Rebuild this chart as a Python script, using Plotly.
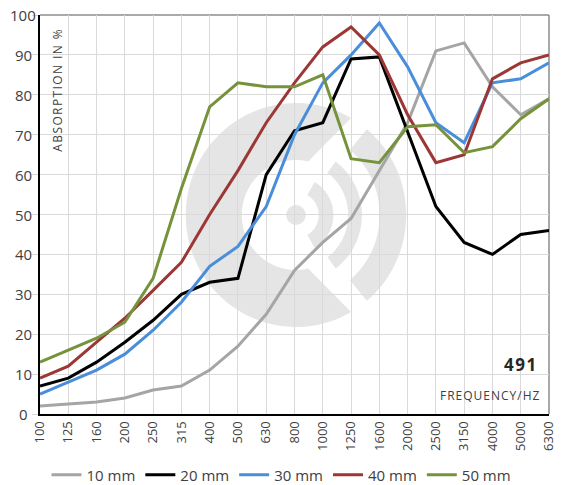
import numpy as np
import plotly.graph_objects as go

# Third-octave band centre frequencies (Hz)
freqs = ["100", "125", "160", "200", "250", "315", "400", "500", "630", "800",
         "1000", "1250", "1600", "2000", "2500", "3150", "4000", "5000", "6300"]

# Sound absorption in % per panel thickness
abs_10mm = [2, 2.5, 3, 4, 6, 7, 11, 17, 25, 36, 43, 49, 61, 73, 91, 93, 82, 75, 79]
abs_20mm = [7, 9, 13, 18, 23.5, 30, 33, 34, 60, 71, 73, 89, 89.5, 71, 52, 43, 40, 45, 46]
abs_30mm = [5, 8, 11, 15, 21, 28, 37, 42, 52, 70, 83, 90, 98, 87, 73, 68, 83, 84, 88]
abs_40mm = [9, 12, 18, 24, 31, 38, 50, 61, 73, 83, 92, 97, 90, 75, 63, 65, 84, 88, 90]
abs_50mm = [13, 16, 19, 23, 34, 56.5, 77, 83, 82, 82, 85, 64, 63, 72, 72.5, 65.5, 67, 74, 79]

series_names = ["10 mm", "20 mm", "30 mm", "40 mm", "50 mm"]
series_values = [abs_10mm, abs_20mm, abs_30mm, abs_40mm, abs_50mm]
series_colors = ["#a5a5a5", "#000000", "#4a8edb", "#9b3836", "#76933c"]

y_ticks = [0, 10, 20, 30, 40, 50, 60, 70, 80, 90, 100]

W, H = 563, 485
ML, MR, MT, MB = 40, 6, 15, 71
PW, PH = W - ML - MR, H - MT - MB

TEXT = "#404040"
FONT = "Open Sans"
GRID = "#dadada"


def paper(px, py):
    """Pixel position -> fraction of the plotting area."""
    return (px - ML) / PW, (H - MB - py) / PH


def band_path(cx, cy, r_in, r_out, a0, a1, b0=None, b1=None, n=80):
    """Closed path for an annular band: outer arc a0->a1, inner arc b1->b0."""
    if b0 is None:
        b0, b1 = a0, a1
    pts = []
    for t in np.radians(np.linspace(a0, a1, n)):
        pts.append(paper(cx + r_out * np.cos(t), cy - r_out * np.sin(t)))
    for t in np.radians(np.linspace(b1, b0, n)):
        pts.append(paper(cx + r_in * np.cos(t), cy - r_in * np.sin(t)))
    return "M " + " L ".join(f"{x:.5f},{y:.5f}" for x, y in pts) + " Z"


fig = go.Figure()

for name, vals, col in zip(series_names, series_values, series_colors):
    fig.add_trace(go.Scatter(
        x=freqs, y=vals, name=name, mode="lines",
        line=dict(color=col, width=3),
    ))

# Watermark emblem; translucent fill so the grid stays visible through it
LOGO = "rgba(0,0,0,0.10)"
cx, cy = 300, 215
shapes = [
    dict(type="path", path=band_path(cx, cy, 55, 112, 60, 300, 77, 283)),
    dict(type="path", path=band_path(cx, cy, 85, 112, -50, 50)),
    dict(type="path", path=band_path(cx, cy, 53, 67, -53, 53)),
    dict(type="path", path=band_path(cx, cy, 23, 38, -60, 60)),
]
x0, y0 = paper(cx - 10, cy + 10)
x1, y1 = paper(cx + 10, cy - 10)
shapes.append(dict(type="circle", x0=x0, y0=y0, x1=x1, y1=y1))
for s in shapes:
    s.update(xref="paper", yref="paper", fillcolor=LOGO,
             line=dict(width=0), layer="below")

# Grey frame on the top and right edges
shapes += [
    dict(type="line", xref="paper", yref="paper", x0=0, x1=1, y0=1, y1=1,
         line=dict(color="#8c8c8c", width=1.5), layer="below"),
    dict(type="line", xref="paper", yref="paper", x0=1, x1=1, y0=0, y1=1,
         line=dict(color="#8c8c8c", width=1.5), layer="below"),
]

annotations = []
# Centred value labels on the y axis
for v in y_ticks:
    annotations.append(dict(
        xref="paper", yref="y", x=0, y=v, xshift=-17, text=str(v),
        showarrow=False, xanchor="center", yanchor="middle",
        font=dict(family=FONT, size=15, color=TEXT),
    ))

annotations += [
    dict(xref="paper", yref="paper", x=paper(57, 0)[0], y=paper(0, 90)[1],
         text='<span style="letter-spacing:1.4px">ABSORPTION IN %</span>',
         textangle=-90, showarrow=False, xanchor="center", yanchor="middle",
         font=dict(family=FONT, size=12, color=TEXT)),
    dict(xref="paper", yref="paper", x=paper(548, 0)[0], y=paper(0, 364)[1],
         text='<span style="letter-spacing:1.5px"><b>491</b></span>',
         showarrow=False, xanchor="right", yanchor="middle",
         font=dict(family=FONT, size=17, color="#262626")),
    dict(xref="paper", yref="paper", x=paper(550, 0)[0], y=paper(0, 395)[1],
         text='<span style="letter-spacing:1px">FREQUENCY/HZ</span>',
         showarrow=False, xanchor="right", yanchor="middle",
         font=dict(family=FONT, size=12, color=TEXT)),
]

fig.update_layout(
    width=W, height=H,
    margin=dict(l=ML, r=MR, t=MT, b=MB, pad=0),
    paper_bgcolor="white", plot_bgcolor="white",
    font=dict(family=FONT, color=TEXT),
    shapes=shapes,
    annotations=annotations,
    showlegend=True,
    legend=dict(
        orientation="h", xref="container", yref="container",
        x=0.5, xanchor="center", y=(H - 475) / H, yanchor="middle",
        font=dict(family=FONT, size=15, color=TEXT),
        bgcolor="rgba(0,0,0,0)", itemwidth=30, tracegroupgap=0,
    ),
    xaxis=dict(
        type="category", range=[0, len(freqs) - 1],
        categoryorder="array", categoryarray=freqs,
        showgrid=True, gridcolor=GRID, gridwidth=1,
        showline=True, linecolor="black", linewidth=2,
        tickangle=-90, ticks="", zeroline=False,
        tickfont=dict(family=FONT, size=13, color=TEXT),
    ),
    yaxis=dict(
        range=[0, 100], tickvals=y_ticks, showticklabels=False,
        showgrid=True, gridcolor=GRID, gridwidth=1,
        showline=True, linecolor="black", linewidth=2,
        ticks="outside", ticklen=6, tickcolor=GRID, zeroline=False,
    ),
)

fig.write_html("out.html")
